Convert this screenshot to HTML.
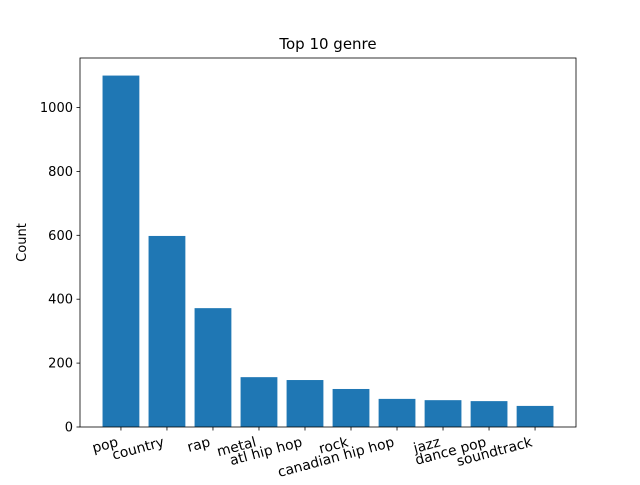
<!DOCTYPE html>
<html><head><meta charset="utf-8"><style>body{margin:0;background:#fff}svg{font-family:"DejaVu Sans","Liberation Sans",sans-serif}</style></head>
<body>
<svg id="chart" width="640" height="480"></svg>
<script>
const categories = ["pop","country","rap","metal","atl hip hop","rock","canadian hip hop","jazz","dance pop","soundtrack"];
const counts = [1100,598,372,156,147,119,88,84,81,66];
const yTicks = [0,200,400,600,800,1000];
const NS="http://www.w3.org/2000/svg";
const svg=document.getElementById('chart');
const L=80,R=576,T=58,B=427;
const xMin=-0.89,xMax=9.89,yMax=1155;
const x=v=>L+(v-xMin)/(xMax-xMin)*(R-L);
const y=v=>B-v/yMax*(B-T);
function mk(tag,attrs,txt){const e=document.createElementNS(NS,tag);for(const k in attrs)e.setAttribute(k,attrs[k]);if(txt!=null)e.textContent=txt;svg.appendChild(e);return e;}
categories.forEach((c,i)=>{
  const w=0.8*(R-L)/(xMax-xMin);
  const r=mk('rect',{x:x(i)-w/2,y:y(counts[i]),width:w,height:B-y(counts[i]),fill:'#1f77b4'});
  
  
  mk('line',{x1:x(i),x2:x(i),y1:B,y2:B+3.5,stroke:'#000','stroke-width':0.8});
  const ax0=x(i)-2, ay0=B+19;
  const lb=mk('text',{x:ax0,y:ay0,'font-size':13.9,'text-anchor':'end',transform:`rotate(-15 ${ax0} ${ay0})`},c);
  
  
});
yTicks.forEach(v=>{
  mk('line',{x1:L-3.5,x2:L,y1:y(v),y2:y(v),stroke:'#000','stroke-width':0.8});
  const t=mk('text',{x:L-7,y:y(v)+4.5,'font-size':13,'text-anchor':'end'},v);
  
  
});
const ax=mk('rect',{x:L,y:T,width:R-L,height:B-T,fill:'none',stroke:'#000','stroke-width':0.8});


const ti=mk('text',{x:(L+R)/2,y:T-9,'font-size':15,'text-anchor':'middle'},'Top 10 genre');


const yl=mk('text',{x:26,y:(T+B)/2,'font-size':13,'text-anchor':'middle',transform:`rotate(-90 26 ${(T+B)/2})`},'Count');


</script>
</body></html>
